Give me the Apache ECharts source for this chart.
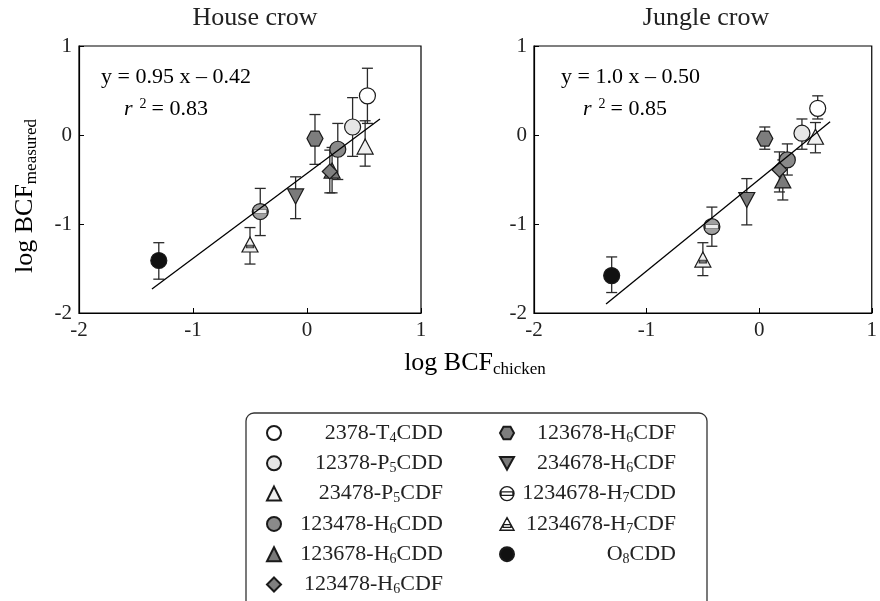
<!DOCTYPE html>
<html>
<head>
<meta charset="utf-8">
<script src="https://cdn.jsdelivr.net/npm/echarts@6/dist/echarts.min.js"></script>
<style>html,body{margin:0;padding:0;background:#fff;}#c{width:880px;height:601px;}</style>
</head>
<body>
<div id="c"></div>
<script>
// ---------- data ----------
const compounds = ['2378-T4CDD','12378-P5CDD','23478-P5CDF','123478-H6CDD','123678-H6CDD','123478-H6CDF',
                   '123678-H6CDF','234678-H6CDF','1234678-H7CDD','1234678-H7CDF','O8CDD'];
const panelTitles = ['House crow','Jungle crow'];
const xTicks = [-2, -1, 0, 1];
const yTicks = [-2, -1, 0, 1];
// House crow: log BCF chicken (x), log BCF measured (y), error low / high
const houseX  = [0.53, 0.40, 0.51, 0.27, 0.22, 0.20, 0.07, -0.10, -0.41, -0.50, -1.30];
const houseY  = [0.44, 0.09, -0.13, -0.16, -0.40, -0.41, -0.04, -0.69, -0.86, -1.23, -1.41];
const houseLo = [0.13, -0.24, -0.35, -0.50, -0.65, -0.65, -0.33, -0.94, -1.13, -1.45, -1.62];
const houseHi = [0.75, 0.42, 0.16, 0.13, -0.14, -0.17, 0.23, -0.47, -0.60, -1.04, -1.21];
// Jungle crow
const jungleX  = [0.52, 0.38, 0.50, 0.25, 0.21, 0.18, 0.05, -0.11, -0.42, -0.50, -1.31];
const jungleY  = [0.30, 0.02, -0.02, -0.28, -0.51, -0.39, -0.04, -0.73, -1.03, -1.40, -1.58];
const jungleLo = [0.18, -0.16, -0.20, -0.45, -0.73, -0.64, -0.16, -1.01, -1.25, -1.58, -1.77];
const jungleHi = [0.44, 0.18, 0.14, -0.10, -0.28, -0.19, 0.09, -0.49, -0.81, -1.21, -1.37];
// regression line end points
const houseLineX = [-1.36, 0.64];
const houseLineY = [-1.73, 0.18];
const jungleLineX = [-1.36, 0.63];
const jungleLineY = [-1.90, 0.15];
// regression text
const houseEq = 'y = 0.95 x \u2013 0.42';
const houseR2 = '0.83';
const jungleEq = 'y = 1.0 x \u2013 0.50';
const jungleR2 = '0.85';

// ---------- styles ----------
const FONT = "'Liberation Serif','Times New Roman',serif";
const HEX = 'path://M5,0 L15,0 L20,9 L15,18 L5,18 L0,9 Z';
const DOWN = 'path://M0,0 L20,0 L10,18 Z';
const styles = [
  {symbol:'circle', size:16, color:'#ffffff'},
  {symbol:'circle', size:16, color:'#e6e6e6'},
  {symbol:'triangle', size:[16,15], color:'#f0f0f0'},
  {symbol:'circle', size:16, color:'#8a8a8a'},
  {symbol:'triangle', size:[16,15], color:'#7a7a7a'},
  {symbol:'diamond', size:15, color:'#808080'},
  {symbol:HEX, size:[16,15], color:'#7d7d7d'},
  {symbol:DOWN, size:[16,15], color:'#7a7a7a'},
  {symbol:'circle', size:16, color:'#a0a0a0', band:{size:[14,4], color:'#ffffff', offset:[0,0]}},
  {symbol:'triangle', size:[16,15], color:'#f0f0f0', band:{size:[7,3], color:'#555555', offset:[0,2]}},
  {symbol:'circle', size:16, color:'#111111'}
];

function rich(name){
  const m = name.match(/^(.*[A-Z])(\d)(CD[DF])$/);
  return '{n|' + m[1] + '}{s|' + m[2] + '}{n|' + m[3] + '}';
}

const grids = [
  {left:79, top:46, width:342, height:267},
  {left:534, top:46, width:342, height:267}
];

function axisCommon(){
  return {
    type:'value', min:-2, max:1, interval:1,
    axisLine:{show:true, onZero:false, lineStyle:{color:'#000', width:1.2}},
    axisTick:{show:true, inside:true, length:5, lineStyle:{color:'#000', width:1}},
    splitLine:{show:false},
    axisLabel:{fontFamily:FONT, fontSize:21, color:'#222', margin:7,
               formatter: v => (yTicks.indexOf(v) >= 0 ? String(v) : '')}
  };
}

const xAxes = [0,1].map(i => Object.assign(axisCommon(), {gridIndex:i}));
const yAxes = [0,1].map(i => Object.assign(axisCommon(), {gridIndex:i}));

const series = [];
const panels = [
  {X:houseX, Y:houseY, lo:houseLo, hi:houseHi, lx:houseLineX, ly:houseLineY},
  {X:jungleX, Y:jungleY, lo:jungleLo, hi:jungleHi, lx:jungleLineX, ly:jungleLineY}
];
panels.forEach((p, pi) => {
  // error bars
  series.push({
    type:'custom', name:'err'+pi, xAxisIndex:pi, yAxisIndex:pi, z:1, silent:true,
    encode:{x:0, y:[1,2]},
    data: p.X.map((x,i) => [x, p.lo[i], p.hi[i]]),
    renderItem:function(params, api){
      const a = api.coord([api.value(0), api.value(2)]);
      const b = api.coord([api.value(0), api.value(1)]);
      const w = 5.5, st = {stroke:'#2a2a2a', lineWidth:1.3};
      return {type:'group', children:[
        {type:'line', shape:{x1:a[0], y1:a[1], x2:b[0], y2:b[1]}, style:st},
        {type:'line', shape:{x1:a[0]-w, y1:a[1], x2:a[0]+w, y2:a[1]}, style:st},
        {type:'line', shape:{x1:b[0]-w, y1:b[1], x2:b[0]+w, y2:b[1]}, style:st}
      ]};
    }
  });
  // regression line
  series.push({
    type:'line', name:'fit'+pi, xAxisIndex:pi, yAxisIndex:pi, z:5, silent:true,
    symbol:'none', lineStyle:{color:'#000', width:1.3},
    data: p.lx.map((x,i) => [x, p.ly[i]])
  });
  // markers
  compounds.forEach((c, i) => {
    const s = styles[i];
    series.push({
      type:'scatter', name:c, xAxisIndex:pi, yAxisIndex:pi, z:3,
      symbol:s.symbol, symbolSize:s.size,
      itemStyle:{color:s.color, borderColor:'#1a1a1a', borderWidth:1.2, opacity:1},
      data:[[p.X[i], p.Y[i]]]
    });
    if (s.band) {
      series.push({
        type:'scatter', name:'band'+pi+'_'+i, xAxisIndex:pi, yAxisIndex:pi, z:4,
        symbol:'rect', symbolSize:s.band.size, symbolOffset:s.band.offset,
        itemStyle:{color:s.band.color, borderColor:'#1a1a1a', borderWidth:1},
        data:[[p.X[i], p.Y[i]]]
      });
    }
  });
});

const legendText = {
  fontFamily:FONT, fontSize:22, color:'#222', width:157, align:'right',
  rich:{
    n:{fontFamily:FONT, fontSize:22, color:'#222', lineHeight:24, align:'right', verticalAlign:'middle'},
    s:{fontFamily:FONT, fontSize:14, color:'#222', lineHeight:14, align:'right', verticalAlign:'bottom'}
  }
};
function legendData(list){
  return list.map(name => {
    const i = compounds.indexOf(name);
    const d = {name:name};
    if (i === 8) { d.icon = 'path://M10,0 A10,10 0 1,1 9.99,0 Z M1.5,7.5 L18.5,7.5 L18.5,12.5 L1.5,12.5 Z'; d.itemStyle = {color:'#ffffff', borderColor:'#1a1a1a', borderWidth:1.4}; }
    if (i === 9) { d.icon = 'path://M10,0 L20,18 L0,18 Z M4.5,10 L15.5,10 L15.5,14 L4.5,14 Z'; d.itemStyle = {color:'#ffffff', borderColor:'#1a1a1a', borderWidth:1.4}; }
    if (i === 7) { d.icon = DOWN; }
    return d;
  });
}
const legendCommon = {
  orient:'vertical', itemWidth:14, itemHeight:14, itemGap:7.3, selectedMode:false,
  textStyle:legendText, padding:0,
  formatter: name => rich(name)
};

const eqRich = {
  n:{fontFamily:FONT, fontSize:22, color:'#222', lineHeight:24},
  i:{fontFamily:FONT, fontSize:22, fontStyle:'italic', color:'#222', lineHeight:24},
  p:{fontFamily:FONT, fontSize:14, color:'#222', lineHeight:14, verticalAlign:'top', padding:[0,5,0,7]}
};
const axRich = {
  n:{fontFamily:FONT, fontSize:26, color:'#222', lineHeight:30, verticalAlign:'middle'},
  s:{fontFamily:FONT, fontSize:17, color:'#222', lineHeight:17, verticalAlign:'bottom'}
};

const graphic = [
  {type:'text', x:255, y:18, silent:true, style:{text:panelTitles[0], font:'26px '+FONT, fill:'#222', align:'center', verticalAlign:'middle'}},
  {type:'text', x:706, y:18, silent:true, style:{text:panelTitles[1], font:'26px '+FONT, fill:'#222', align:'center', verticalAlign:'middle'}},
  {type:'text', x:101, y:77, silent:true, style:{text:'{n|'+houseEq+'}', rich:eqRich, verticalAlign:'middle'}},
  {type:'text', x:124, y:109, silent:true, style:{text:'{i|r}{p|2}{n|= '+houseR2+'}', rich:eqRich, verticalAlign:'middle'}},
  {type:'text', x:561, y:77, silent:true, style:{text:'{n|'+jungleEq+'}', rich:eqRich, verticalAlign:'middle'}},
  {type:'text', x:583, y:109, silent:true, style:{text:'{i|r}{p|2}{n|= '+jungleR2+'}', rich:eqRich, verticalAlign:'middle'}},
  {type:'text', x:475, y:363, silent:true, style:{text:'{n|log BCF}{s|chicken}', rich:axRich, align:'center', verticalAlign:'middle'}},
  {type:'text', x:25, y:196, rotation:Math.PI/2, silent:true, style:{text:'{n|log BCF}{s|measured}', rich:axRich, align:'center', verticalAlign:'middle'}},
  {type:'rect', x:246, y:413, silent:true, shape:{width:461, height:200, r:8}, style:{fill:'none', stroke:'#333', lineWidth:1.3}, z:-1}
];

const chart = echarts.init(document.getElementById('c'), null, {renderer:'canvas'});
chart.setOption({
  animation:false,
  backgroundColor:'#fff',
  grid: grids.map(g => Object.assign({show:true, borderColor:'#000', borderWidth:1.2, backgroundColor:'rgba(0,0,0,0)'}, g)),
  xAxis: xAxes,
  yAxis: yAxes,
  legend: [
    Object.assign({left:266, top:422, data:legendData(compounds.slice(0,6))}, legendCommon),
    Object.assign({left:499, top:422, data:legendData(compounds.slice(6))}, legendCommon)
  ],
  graphic: graphic,
  series: series
});
</script>
</body>
</html>
